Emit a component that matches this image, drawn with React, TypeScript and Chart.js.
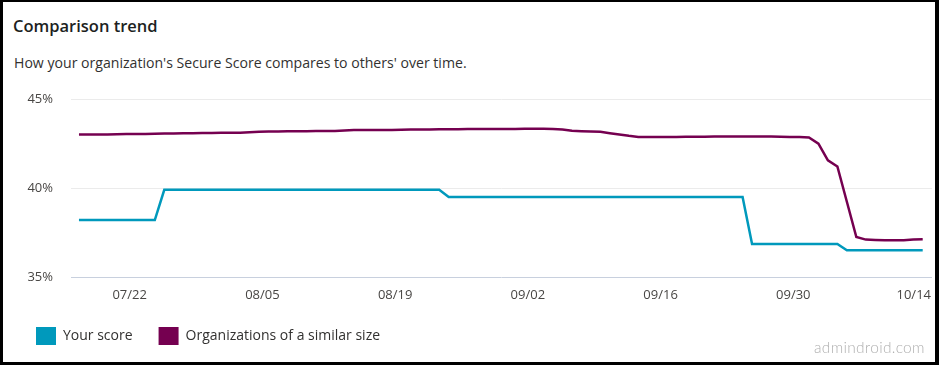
import React, { useEffect, useRef } from "react";
import { Chart, registerables } from "chart.js";

Chart.register(...registerables);

const TITLE = "Comparison trend";
const SUBTITLE = "How your organization's Secure Score compares to others' over time.";
const WATERMARK = "admindroid.com";

const SERIES_NAMES = ["Your score", "Organizations of a similar size"];
const SERIES_COLORS = ["#0099bc", "#750050"];

// one sample per day starting 07/16 (day 0), sampled late in the day
const SAMPLE_OFFSET = 0.65;

const yourScore = [
  38.2, 38.2, 38.2, 38.2, 38.2, 38.2, 38.2, 38.2, 38.2,
  39.9, 39.9, 39.9, 39.9, 39.9, 39.9, 39.9, 39.9, 39.9, 39.9,
  39.9, 39.9, 39.9, 39.9, 39.9, 39.9, 39.9, 39.9, 39.9, 39.9,
  39.9, 39.9, 39.9, 39.9, 39.9, 39.9, 39.9, 39.9, 39.9, 39.9,
  39.5, 39.5, 39.5, 39.5, 39.5, 39.5, 39.5, 39.5, 39.5, 39.5,
  39.5, 39.5, 39.5, 39.5, 39.5, 39.5, 39.5, 39.5, 39.5, 39.5,
  39.5, 39.5, 39.5, 39.5, 39.5, 39.5, 39.5, 39.5, 39.5, 39.5,
  39.5, 39.5,
  36.85, 36.85, 36.85, 36.85, 36.85, 36.85, 36.85, 36.85, 36.85, 36.85,
  36.5, 36.5, 36.5, 36.5, 36.5, 36.5, 36.5, 36.5, 36.5,
];

const similarOrgs = [
  43.0, 43.0, 43.01, 43.01, 43.02, 43.03, 43.04, 43.04, 43.05, 43.06,
  43.06, 43.07, 43.08, 43.09, 43.09, 43.1, 43.1, 43.11, 43.13, 43.16,
  43.18, 43.18, 43.19, 43.19, 43.19, 43.2, 43.2, 43.2, 43.23, 43.26,
  43.26, 43.26, 43.26, 43.26, 43.27, 43.28, 43.29, 43.29, 43.3, 43.3,
  43.3, 43.31, 43.31, 43.31, 43.32, 43.32, 43.32, 43.33, 43.33, 43.33,
  43.32, 43.29, 43.22, 43.19, 43.17, 43.16, 43.08, 43.01, 42.93, 42.87,
  42.87, 42.87, 42.87, 42.87, 42.88, 42.88, 42.88, 42.89, 42.89, 42.9,
  42.9, 42.9, 42.9, 42.89, 42.88, 42.87, 42.86, 42.84, 42.49, 41.55,
  41.21, 39.23, 37.25, 37.1, 37.08, 37.07, 37.06, 37.07, 37.1, 37.12,
];

// x tick positions in days after 07/16
const TICK_DAYS = [6, 20, 34, 48, 62, 76, 90];
const TICK_LABELS = ["07/22", "08/05", "08/19", "09/02", "09/16", "09/30", "10/14"];
const Y_TICKS = [35, 40, 45];
const X_MIN = -0.19;
const X_MAX = 90.63;

const FONT = "'Open Sans', 'Noto Sans', sans-serif";

const clampLastXLabel = {
  id: "clampLastXLabel",
  beforeDraw(chart: any) {
    const sx = chart.scales.x;
    if (!sx || !sx.getLabelItems) return;
    const items = sx.getLabelItems(chart.chartArea);
    if (!items || !items.length) return;
    const last = items[items.length - 1];
    const ctx = chart.ctx;
    ctx.save();
    ctx.font = last.font.string;
    const w = ctx.measureText(String(last.label)).width;
    ctx.restore();
    const limit = chart.chartArea.right - 1;
    const x = last.options.translation[0];
    if (x + w / 2 > limit) {
      last.options.translation[0] = limit;
      last.options.textAlign = "right";
    }
  },
};

export default function App() {
  const ref = useRef<HTMLCanvasElement>(null);

  useEffect(() => {
    const toPoints = (arr: number[]) => arr.map((v, i) => ({ x: i + SAMPLE_OFFSET, y: v }));
    const chart = new Chart(ref.current as HTMLCanvasElement, {
      type: "line",
      data: {
        datasets: [
          {
            label: SERIES_NAMES[0],
            data: toPoints(yourScore),
            borderColor: SERIES_COLORS[0],
            backgroundColor: SERIES_COLORS[0],
            borderWidth: 2.5,
            pointRadius: 0,
            tension: 0,
            fill: false,
          },
          {
            label: SERIES_NAMES[1],
            data: toPoints(similarOrgs),
            borderColor: SERIES_COLORS[1],
            backgroundColor: SERIES_COLORS[1],
            borderWidth: 2.5,
            pointRadius: 0,
            tension: 0,
            fill: false,
          },
        ],
      },
      options: {
        animation: false,
        responsive: false,
        layout: { padding: { top: 11, right: 2, bottom: 3, left: 0 } },
        plugins: {
          tooltip: { enabled: false },
          legend: {
            position: "bottom",
            align: "start",
            labels: {
              boxWidth: 20,
              boxHeight: 18,
              padding: 26,
              color: "#323130",
              font: { size: 14, family: FONT },
              generateLabels: (c: any) =>
                (Chart.defaults.plugins.legend.labels.generateLabels as any)(c).map((l: any) => ({
                  ...l,
                  lineWidth: 0,
                  fillStyle: l.strokeStyle,
                })),
            },
          },
        },
        scales: {
          x: {
            type: "linear",
            min: X_MIN,
            max: X_MAX,
            grid: { display: false, drawTicks: false },
            border: { display: false },
            afterBuildTicks: (s: any) => {
              s.ticks = TICK_DAYS.map((v) => ({ value: v }));
            },
            afterFit: (s: any) => {
              s.height = 24;
              s.paddingLeft = 0;
              s.paddingRight = 0;
            },
            ticks: {
              autoSkip: false,
              maxRotation: 0,
              padding: 10,
              color: "#484644",
              font: { size: 13, family: FONT },
              callback: (v: any) => {
                const k = TICK_DAYS.indexOf(Number(v));
                return k >= 0 ? TICK_LABELS[k] : "";
              },
            },
          },
          y: {
            min: 35,
            max: 45,
            afterBuildTicks: (s: any) => {
              s.ticks = Y_TICKS.map((v) => ({ value: v }));
            },
            afterFit: (s: any) => {
              s.width = 61;
              s.paddingTop = 0;
              s.paddingBottom = 0;
            },
            grid: {
              drawTicks: false,
              lineWidth: 1,
              color: (ctx: any) => (ctx.tick && ctx.tick.value === 35 ? "#c8d0de" : "#ebebeb"),
            },
            border: { display: false },
            ticks: {
              padding: 18,
              color: "#484644",
              font: { size: 13, family: FONT },
              callback: (v: any) => `${v}%`,
            },
          },
        },
      },
      plugins: [clampLastXLabel],
    } as any);
    return () => chart.destroy();
  }, []);

  return (
    <div
      style={{
        position: "fixed",
        left: 0,
        top: 0,
        width: 939,
        height: 368,
        background: "#fff",
        fontFamily: FONT,
        overflow: "hidden",
      }}
    >
      <div
        style={{
          position: "absolute",
          left: 0,
          top: 0,
          width: 939,
          height: 365,
          borderStyle: "solid",
          borderColor: "#000",
          borderWidth: "2px 4px 3px 3px",
          boxSizing: "border-box",
        }}
      />
      <div
        style={{
          position: "absolute",
          left: 13,
          top: 15,
          fontSize: 16.5,
          lineHeight: "22px",
          fontWeight: 600,
          color: "#201f1e",
          whiteSpace: "nowrap",
        }}
      >
        {TITLE}
      </div>
      <div
        style={{
          position: "absolute",
          left: 14,
          top: 53,
          fontSize: 14.1,
          lineHeight: "20px",
          color: "#323130",
          whiteSpace: "nowrap",
        }}
      >
        {SUBTITLE}
      </div>
      <div style={{ position: "absolute", left: 10, top: 88, width: 924, height: 270 }}>
        <canvas ref={ref} width={924} height={270} style={{ width: 924, height: 270, display: "block" }} />
      </div>
      <div
        style={{
          position: "absolute",
          left: 814,
          top: 337,
          fontSize: 15.5,
          lineHeight: "20px",
          color: "#b0b0b0",
          fontFamily: "Lato, sans-serif",
          fontWeight: 300,
          letterSpacing: "0.3px",
          whiteSpace: "nowrap",
        }}
      >
        {WATERMARK}
      </div>
    </div>
  );
}
